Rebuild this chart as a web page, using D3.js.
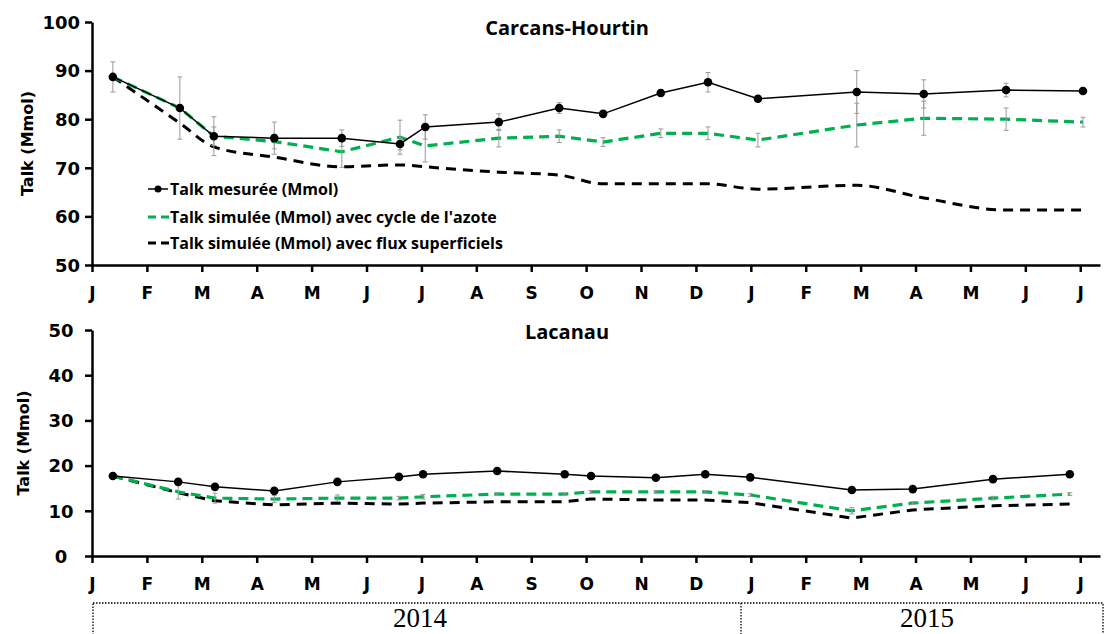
<!DOCTYPE html>
<html>
<head>
<meta charset="utf-8">
<script src="https://cdn.jsdelivr.net/npm/d3@7"></script>
<style>
  html, body { margin: 0; padding: 0; background: #fff; }
  svg { display: block; }
</style>
</head>
<body>
<svg id="chart" width="1106" height="634"></svg>
<script>
// ---------- data ----------
const monthLabels = ["J","F","M","A","M","J","J","A","S","O","N","D","J","F","M","A","M","J","J"];
const yearLabels = ["2014","2015"];
const seriesNames = [
  "Talk mesurée (Mmol)",
  "Talk simulée (Mmol) avec cycle de l'azote",
  "Talk simulée (Mmol) avec flux superficiels"
];
const panelTitles = ["Carcans-Hourtin", "Lacanau"];
const yTitle = "Talk (Mmol)";

// Carcans-Hourtin (months since 1 Jan 2014)
const chMonths       = [0.38,1.60,2.22,3.32,4.55,5.61,6.07,7.41,8.51,9.31,10.36,11.22,12.13,13.93,15.15,16.65,18.05];
const chMeasured     = [88.7,82.3,76.5,76.1,76.1,74.9,78.4,79.4,82.3,81.1,85.4,87.6,84.2,85.6,85.2,86.0,85.8];
const chMeasuredErr  = [3.1,6.4,4.0,3.3,1.7,1.2,2.5,1.7,1.1,0.5,0.7,2.0,0.4,4.4,2.9,1.4,0.4];
const chSimAzote     = [88.7,82.3,76.5,75.4,73.3,76.3,74.5,76.1,76.5,75.3,77.1,77.1,75.7,78.8,80.2,80.0,79.4];
const chSimAzoteErr  = [0,0,1.9,1.5,3.2,3.5,3.3,1.8,1.3,0.9,0.9,1.3,1.4,4.5,3.5,2.3,1.0];
const chSimFlux      = [88.7,79.2,74.3,72.2,70.2,70.6,70.2,69.1,68.5,66.7,66.7,66.7,65.6,66.4,63.8,61.3,61.3];

// Lacanau
const lcMonths       = [0.38,1.57,2.24,3.32,4.47,5.59,6.03,7.38,8.61,9.09,10.27,11.17,11.99,13.84,14.95,16.41,17.81];
const lcMeasured     = [17.7,16.4,15.3,14.4,16.4,17.5,18.1,18.8,18.1,17.7,17.3,18.1,17.4,14.6,14.8,17.0,18.1];
const lcMeasuredErr  = [0,0,0,0,0,0,0,0,0,0,0,0,0,0,0,0,0];
const lcSimAzote     = [17.7,14.2,12.8,12.6,12.8,12.8,13.1,13.7,13.7,14.2,14.2,14.2,13.5,10.0,11.7,12.8,13.7];
const lcSimAzoteErr  = [0,1.6,1.1,0.8,0.7,0.4,0.5,0.3,0.3,0.3,0.3,0.3,0.3,0.7,0.3,0.4,0.3];
const lcSimFlux      = [17.7,14.0,12.2,11.3,11.7,11.5,11.7,12.0,12.0,12.6,12.4,12.4,11.8,8.4,10.2,11.1,11.5];

// ---------- styles ----------
const GREEN = "#00b050";
const AXIS_FONT = "'DejaVu Sans', sans-serif";
const TEXT_FONT = "'Open Sans', Lato, sans-serif";

const svg = d3.select("#chart");

const x = d3.scaleLinear().domain([0, 18.36]).range([92, 1100]);

const panels = [
  { title: panelTitles[0], yDomain: [50,100], yRange: [265,22], titleY: 28, yTitleX: 27,
    months: chMonths, meas: chMeasured, measErr: chMeasuredErr,
    simA: chSimAzote, simAErr: chSimAzoteErr, simF: chSimFlux, smoothFlux: true,
    labelAnchor: "end", labelX: -12, legend: true },
  { title: panelTitles[1], yDomain: [0,50], yRange: [556,330], titleY: 332, yTitleX: 23,
    months: lcMonths, meas: lcMeasured, measErr: lcMeasuredErr,
    simA: lcSimAzote, simAErr: lcSimAzoteErr, simF: lcSimFlux, smoothFlux: false,
    labelAnchor: "middle", labelX: -31, legend: false }
];

panels.forEach(p => {
  const y = d3.scaleLinear().domain(p.yDomain).range(p.yRange);
  const g = svg.append("g");
  const y0 = p.yRange[0];

  // x axis
  const xAxis = d3.axisBottom(x)
    .tickValues(d3.range(0, monthLabels.length))
    .tickFormat(i => monthLabels[i])
    .tickSizeInner(7).tickSizeOuter(0);
  const gx = g.append("g").attr("transform", `translate(0,${y0})`).call(xAxis);
  gx.select(".domain").attr("stroke", "#000").attr("stroke-width", 2.5);
  gx.selectAll(".tick line").attr("stroke", "#000").attr("stroke-width", 2.5);
  gx.selectAll(".tick text")
    .attr("y", 28).attr("dy", "0.35em")
    .attr("font-family", AXIS_FONT).attr("font-weight", "bold")
    .attr("font-size", 17).attr("fill", "#000");

  // y axis
  const yAxis = d3.axisLeft(y).tickValues(d3.range(p.yDomain[0], p.yDomain[1] + 1, 10))
    .tickSizeInner(7).tickSizeOuter(0);
  const gy = g.append("g").attr("transform", `translate(${x(0)},0)`).call(yAxis);
  gy.select(".domain").attr("stroke", "#000").attr("stroke-width", 2.5);
  gy.selectAll(".tick line").attr("stroke", "#000").attr("stroke-width", 2.5);
  gy.selectAll(".tick text")
    .attr("x", p.labelX).attr("dy", "0.35em")
    .attr("text-anchor", p.labelAnchor)
    .attr("font-family", AXIS_FONT).attr("font-weight", "bold")
    .attr("font-size", 18).attr("fill", "#000");

  // y title
  const yMid = (p.yRange[0] + p.yRange[1]) / 2;
  g.append("text")
    .attr("transform", `translate(${p.yTitleX},${yMid}) rotate(-90)`)
    .attr("text-anchor", "middle").attr("dy", "0.35em")
    .attr("font-family", AXIS_FONT).attr("font-weight", "bold")
    .attr("font-size", 16).text(yTitle);

  // panel title
  g.append("text")
    .attr("x", 567).attr("y", p.titleY).attr("dy", "0.35em")
    .attr("text-anchor", "middle")
    .attr("font-family", TEXT_FONT).attr("font-weight", "bold")
    .attr("font-size", 20).text(p.title);

  const pts = (vals, errs) => p.months.map((m, i) => ({ m, v: vals[i], e: errs ? errs[i] : 0 }));
  const measPts = pts(p.meas, p.measErr);
  const simAPts = pts(p.simA, p.simAErr);
  const simFPts = pts(p.simF, null);

  const lineLin = d3.line().x(d => x(d.m)).y(d => y(d.v));
  const lineSmooth = d3.line().x(d => x(d.m)).y(d => y(d.v)).curve(d3.curveMonotoneX);

  // flux line (black dashed)
  g.append("path").datum(simFPts)
    .attr("d", p.smoothFlux ? lineSmooth : lineLin)
    .attr("fill", "none").attr("stroke", "#000").attr("stroke-width", 3)
    .attr("stroke-dasharray", "10,7");

  // azote line (green dashed)
  g.append("path").datum(simAPts)
    .attr("d", lineLin)
    .attr("fill", "none").attr("stroke", GREEN).attr("stroke-width", 3.2)
    .attr("stroke-dasharray", "10,6");

  // measured line
  g.append("path").datum(measPts)
    .attr("d", lineLin)
    .attr("fill", "none").attr("stroke", "#000").attr("stroke-width", 1.5);

  // error bars
  const drawErr = (data) => {
    const eg = g.append("g").attr("stroke", "#9a9a9a").attr("stroke-width", 1);
    data.filter(d => d.e > 0).forEach(d => {
      const cx = x(d.m), yt = y(d.v + d.e), yb = y(d.v - d.e);
      eg.append("line").attr("x1", cx).attr("x2", cx).attr("y1", yt).attr("y2", yb);
      eg.append("line").attr("x1", cx - 2.5).attr("x2", cx + 2.5).attr("y1", yt).attr("y2", yt);
      eg.append("line").attr("x1", cx - 2.5).attr("x2", cx + 2.5).attr("y1", yb).attr("y2", yb);
    });
  };
  drawErr(simAPts);
  drawErr(measPts);

  // markers
  g.append("g").selectAll("circle").data(measPts).join("circle")
    .attr("cx", d => x(d.m)).attr("cy", d => y(d.v)).attr("r", 4.3).attr("fill", "#000");

  // legend
  if (p.legend) {
    const lg = g.append("g");
    const rows = [189, 217, 243];
    rows.forEach((ry, i) => {
      if (i === 0) {
        lg.append("line").attr("x1", 148).attr("x2", 168).attr("y1", ry).attr("y2", ry)
          .attr("stroke", "#000").attr("stroke-width", 1.5);
        lg.append("circle").attr("cx", 158).attr("cy", ry).attr("r", 3.5).attr("fill", "#000");
      } else {
        lg.append("line").attr("x1", 148).attr("x2", 169).attr("y1", ry).attr("y2", ry)
          .attr("stroke", i === 1 ? GREEN : "#000").attr("stroke-width", 3)
          .attr("stroke-dasharray", "8,5");
      }
      lg.append("text").attr("x", 170).attr("y", ry).attr("dy", "0.35em")
        .attr("font-family", TEXT_FONT).attr("font-weight", "bold")
        .attr("font-size", 16).text(seriesNames[i]);
    });
  }
});

// year box
const yb = svg.append("g");
const boxTop = 603;
yb.append("rect")
  .attr("x", 93).attr("y", boxTop).attr("width", 1010).attr("height", 50)
  .attr("fill", "none").attr("stroke", "#000").attr("stroke-width", 1.3)
  .attr("stroke-dasharray", "1.5,1.5");
yb.append("line")
  .attr("x1", 741).attr("x2", 741).attr("y1", boxTop).attr("y2", 634)
  .attr("stroke", "#000").attr("stroke-width", 1.3).attr("stroke-dasharray", "1.5,1.5");
const yearCenters = [420, 927];
yearLabels.forEach((t, i) => {
  yb.append("text").attr("x", yearCenters[i]).attr("y", 618).attr("dy", "0.35em")
    .attr("text-anchor", "middle")
    .attr("font-family", "'Liberation Serif', 'Times New Roman', serif")
    .attr("font-size", 27).text(t);
});
</script>
</body>
</html>
